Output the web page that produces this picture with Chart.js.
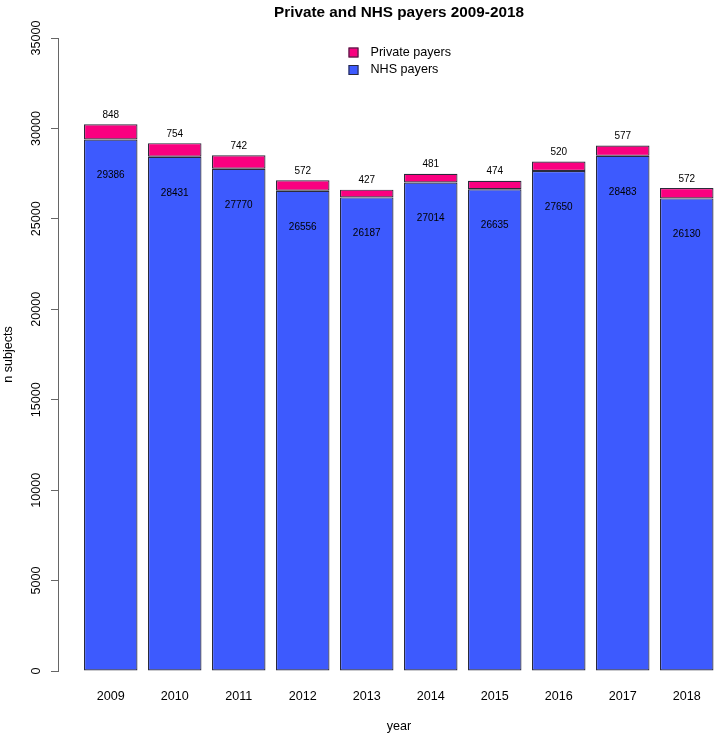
<!DOCTYPE html>
<html><head><meta charset="utf-8">
<script src="https://cdn.jsdelivr.net/npm/chart.js@4"></script>
<style>
html,body{margin:0;padding:0;overflow:hidden;background:#fff;width:714px;height:733px}
#wrap{width:714px;height:733px;overflow:hidden;position:relative}
canvas{display:block}
</style>
</head><body><div id="wrap"><canvas id="c" width="740" height="733"></canvas></div>
<script>
const years = ['2009','2010','2011','2012','2013','2014','2015','2016','2017','2018'];
const nhsPayers = [29386, 28431, 27770, 26556, 26187, 27014, 26635, 27650, 28483, 26130];
const privatePayers = [848, 754, 742, 572, 427, 481, 474, 520, 577, 572];
const yTicks = [0, 5000, 10000, 15000, 20000, 25000, 30000, 35000];
const seriesNames = {nhs: 'NHS payers', priv: 'Private payers'};
const chartTitle = 'Private and NHS payers 2009-2018';

const FONT = '"Liberation Sans", Arial, Helvetica, sans-serif';
const COL_NHS = '#3D5AFE';
const COL_PRIV = '#FA0080';
const EDGE = '#2a2a3a';

const labelsPlugin = {
  id: 'barLabels',
  afterDatasetsDraw(chart) {
    const {ctx, scales: {x, y}} = chart;
    ctx.save();
    ctx.font = '10px ' + FONT;
    ctx.fillStyle = '#000';
    ctx.textAlign = 'center';
    ctx.textBaseline = 'middle';
    years.forEach((yr, i) => {
      const px = x.getPixelForValue(i);
      ctx.fillText(String(nhsPayers[i]), px, y.getPixelForValue(nhsPayers[i] - 2000));
      ctx.fillText(String(privatePayers[i]), px, y.getPixelForValue(nhsPayers[i] + privatePayers[i] + 500));
    });
    ctx.restore();
  }
};

const legendPlugin = {
  id: 'rLegend',
  afterDraw(chart) {
    const {ctx, chartArea} = chart;
    const ds = chart.data.datasets.slice().reverse();
    const bx = chartArea.left + 290.5;
    const rows = [chartArea.top + 14.5, chartArea.top + 32];
    ctx.save();
    ctx.font = '12.6px ' + FONT;
    ctx.textBaseline = 'middle';
    ctx.textAlign = 'left';
    ds.forEach((d, k) => {
      const cy = rows[k];
      ctx.fillStyle = d.backgroundColor;
      ctx.fillRect(bx, cy - 5, 10, 10);
      ctx.strokeStyle = EDGE;
      ctx.lineWidth = 1;
      ctx.strokeRect(bx + 0.5, cy - 4.5, 9, 9);
      ctx.fillStyle = '#000';
      ctx.fillText(d.label, bx + 22, cy);
    });
    ctx.restore();
  }
};

new Chart(document.getElementById('c').getContext('2d'), {
  type: 'bar',
  data: {
    datasets: [
      {label: seriesNames.nhs, data: nhsPayers.map((v, i) => ({x: i, y: v})), backgroundColor: COL_NHS,
       borderColor: EDGE, borderWidth: 1.2, borderSkipped: false, inflateAmount: 0, stack: 's'},
      {label: seriesNames.priv, data: privatePayers.map((v, i) => ({x: i, y: v})), backgroundColor: COL_PRIV,
       borderColor: EDGE, borderWidth: 1.2, borderSkipped: false, inflateAmount: 0, stack: 's'}
    ]
  },
  options: {
    responsive: false,
    animation: false,
    devicePixelRatio: 1,
    layout: {padding: 0},
    datasets: {bar: {categoryPercentage: 1, barPercentage: 0.836}},
    plugins: {
      legend: {display: false},
      tooltip: {enabled: false},
      title: {
        display: true, text: chartTitle, fullSize: false, color: '#000',
        font: {family: FONT, size: 15.3, weight: 'bold', lineHeight: 1},
        padding: {top: 5, bottom: 17.7}
      }
    },
    scales: {
      x: {
        type: 'linear', min: -0.824, max: 9.832, offset: false,
        grid: {display: false, drawTicks: false, tickLength: 0},
        border: {display: false},
        afterBuildTicks: s => { s.ticks = years.map((_, i) => ({value: i})); },
        ticks: {autoSkip: false, minRotation: 0, maxRotation: 0, padding: 18, color: '#000',
                font: {family: FONT, size: 12.6}, callback: v => years[v]},
        title: {display: true, text: 'year', color: '#000', font: {family: FONT, size: 12.6},
                padding: {top: 0, bottom: -1}},
        afterFit: s => { s.height = 62; }
      },
      y: {
        stacked: true, min: 0, max: 35000,
        grid: {drawOnChartArea: false, drawTicks: true, tickLength: 7, color: '#666', tickColor: '#666'},
        border: {display: true, color: '#666', width: 1},
        afterBuildTicks: s => { s.ticks = yTicks.map(v => ({value: v})); },
        ticks: {autoSkip: false, minRotation: 90, maxRotation: 90, crossAlign: 'center', padding: -3.5,
                color: '#000', font: {family: FONT, size: 12.6}, callback: v => String(v)},
        title: {display: true, text: 'n subjects', color: '#000', font: {family: FONT, size: 12.6},
                padding: {top: 1, bottom: 0}},
        afterFit: s => { s.width = 58; }
      }
    }
  },
  plugins: [labelsPlugin, legendPlugin]
});
</script>
</body></html>
